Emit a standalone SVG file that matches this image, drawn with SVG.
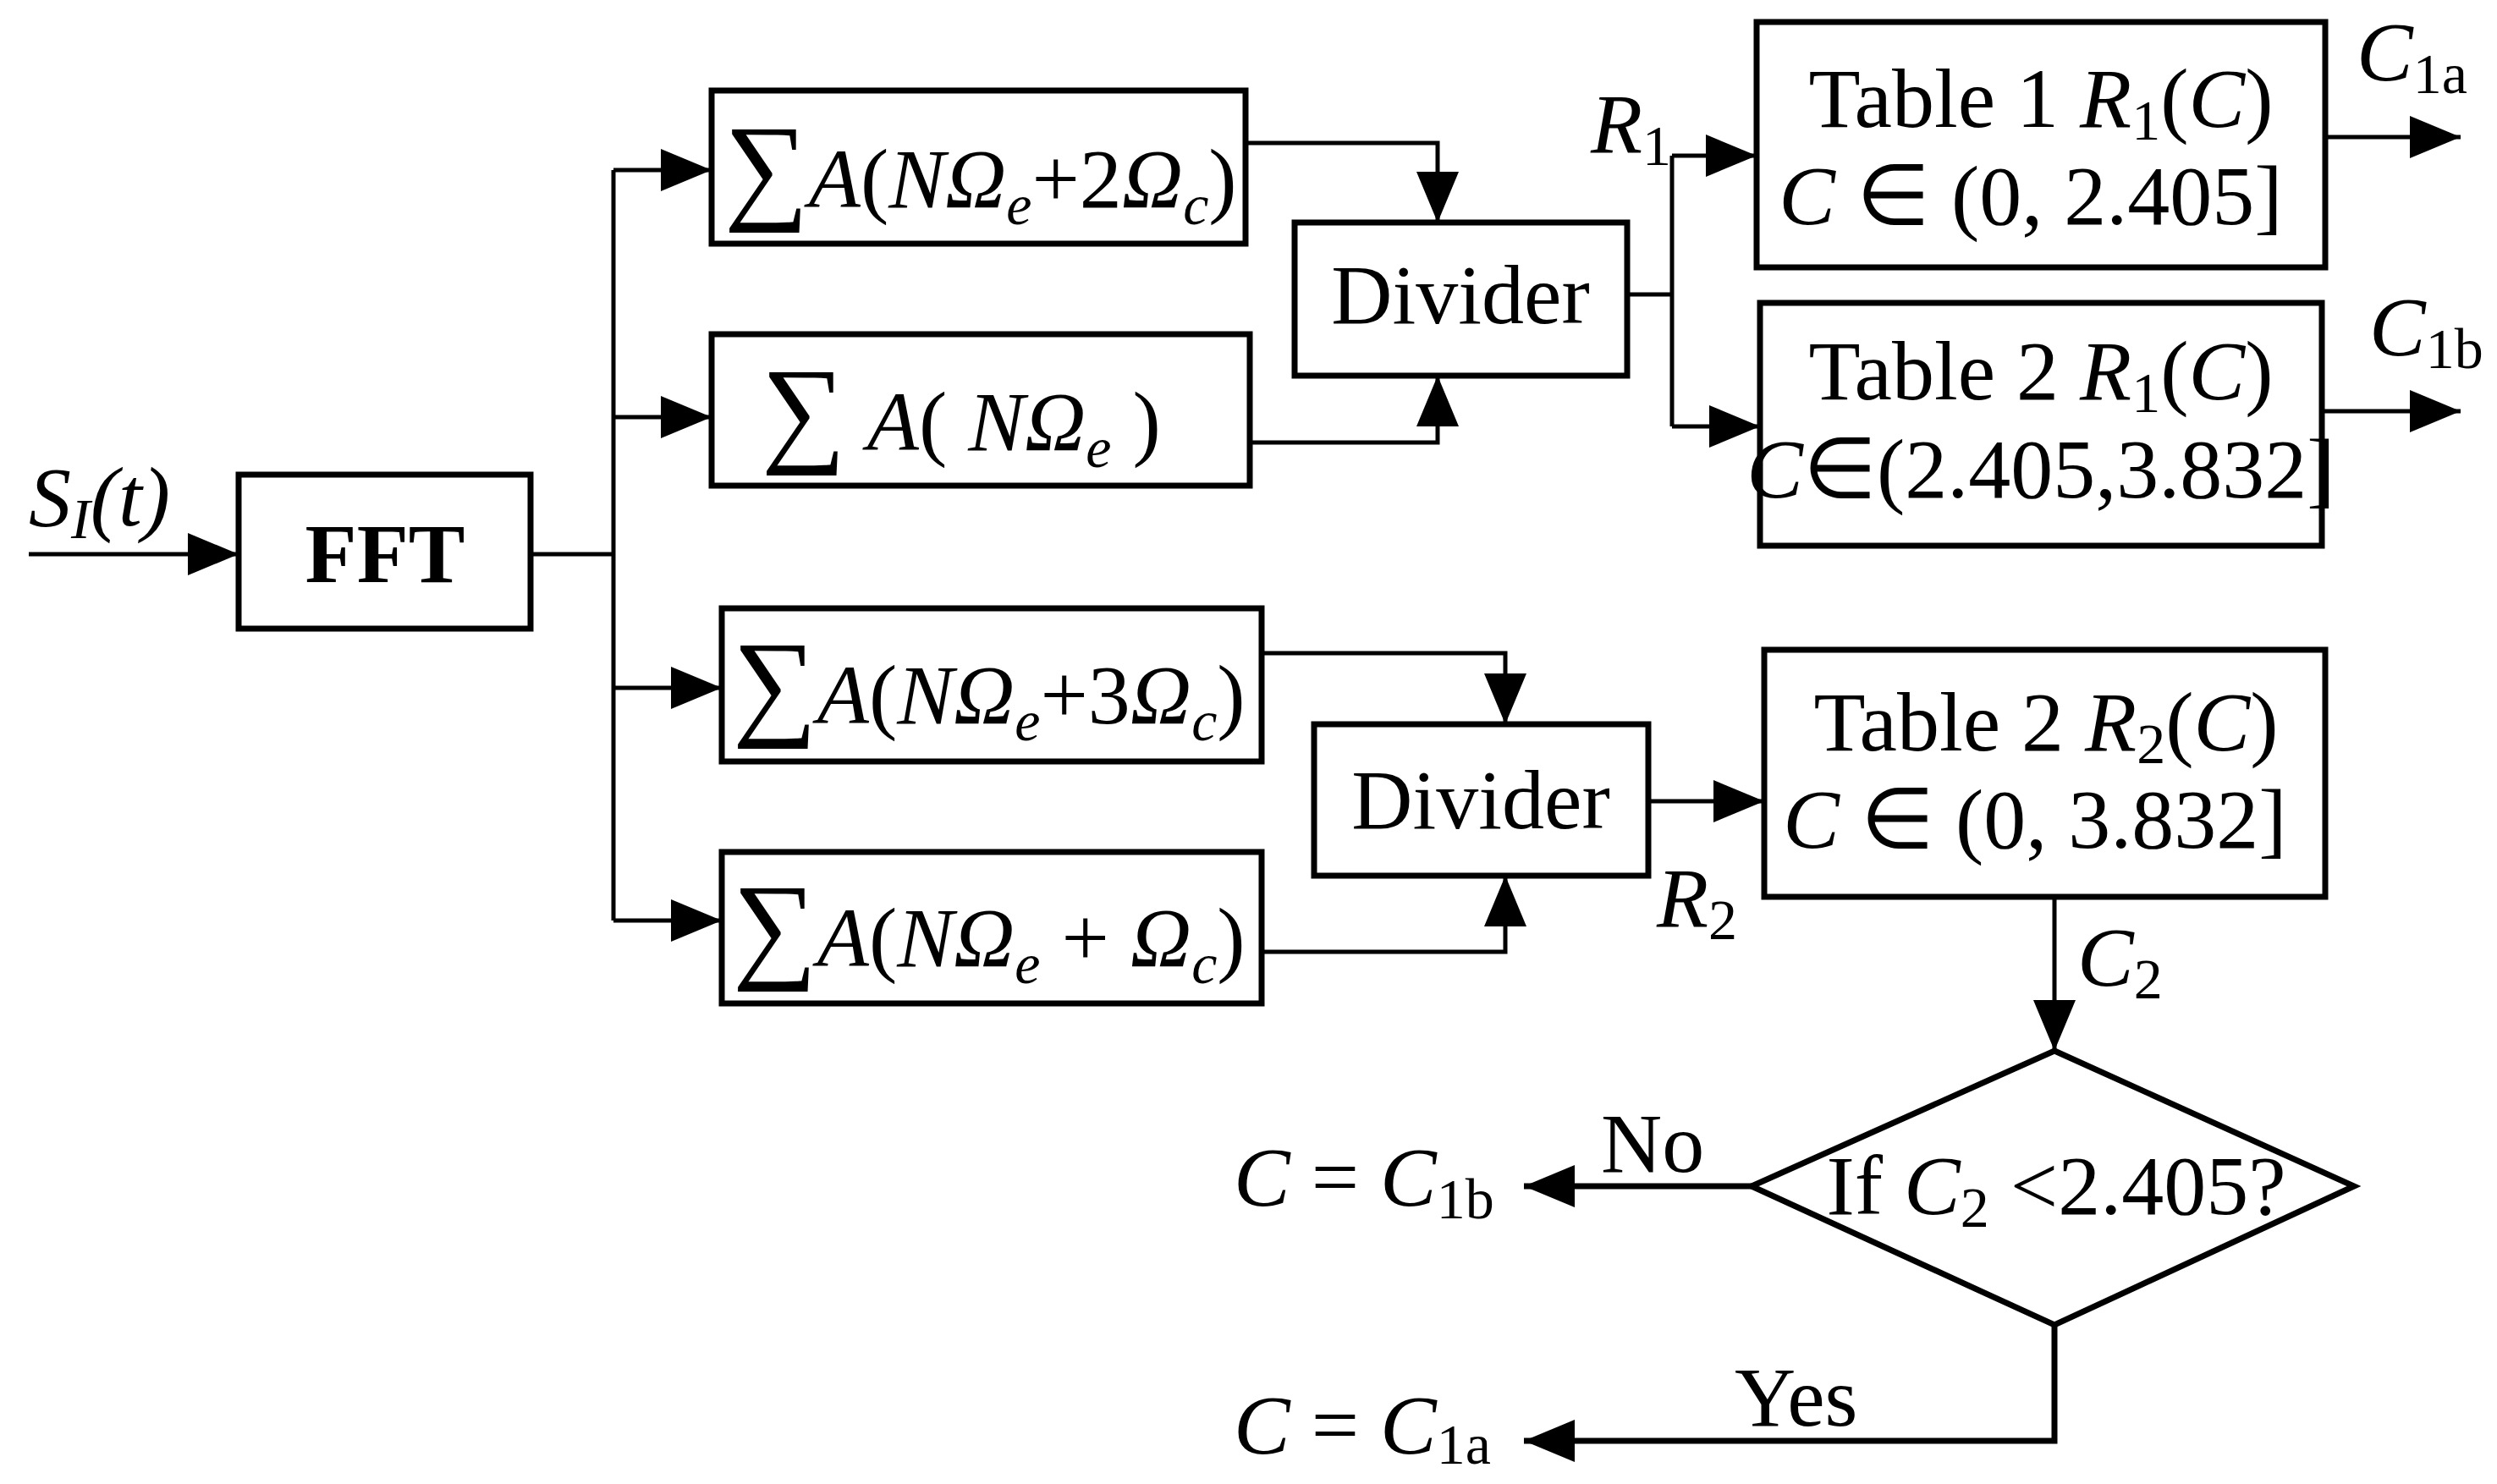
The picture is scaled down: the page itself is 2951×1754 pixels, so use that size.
<svg xmlns="http://www.w3.org/2000/svg" width="2951" height="1754" viewBox="0 0 2951 1754">
<style>
.b{fill:#fff;stroke:#000;stroke-width:7}
.l{fill:none;stroke:#000;stroke-width:5}
.t{font-family:"Liberation Serif",serif;font-size:100px;fill:#000}
.i{font-style:italic}
.s{font-size:68px}
.big{font-size:140px}
</style>
<defs>
<marker id="m" viewBox="0 0 60 50" refX="60" refY="25" markerWidth="60" markerHeight="50" orient="auto" markerUnits="userSpaceOnUse"><path d="M0,0 L60,25 L0,50 Z"/></marker>
</defs>
<rect width="2951" height="1754" fill="#fff"/>
<g id="connectors" class="l">
<path d="M34,655 H282" marker-end="url(#m)"/>
<path d="M627,655 H725"/>
<path d="M725,201 V1088"/>
<path d="M725,201 H841" marker-end="url(#m)"/>
<path d="M725,493 H841" marker-end="url(#m)"/>
<path d="M725,813 H853" marker-end="url(#m)"/>
<path d="M725,1088 H853" marker-end="url(#m)"/>
<path d="M1472,169 H1699 V263" marker-end="url(#m)"/>
<path d="M1477,523 H1699 V444" marker-end="url(#m)"/>
<path d="M1923,348 H1976"/>
<path d="M1976,184 V504"/>
<path d="M1976,184 H2076" marker-end="url(#m)"/>
<path d="M1976,504 H2080" marker-end="url(#m)"/>
<path d="M2748,162 H2908" marker-end="url(#m)"/>
<path d="M2744,486 H2908" marker-end="url(#m)"/>
<path d="M1491,772 H1779 V856" marker-end="url(#m)"/>
<path d="M1491,1125 H1779 V1035" marker-end="url(#m)"/>
<path d="M1948,947 H2085" marker-end="url(#m)"/>
<path d="M2428,1060 V1242" marker-end="url(#m)"/>
<path d="M2070,1402 H1801" stroke-width="7" marker-end="url(#m)"/>
<path d="M2428,1566 V1703 H1801" stroke-width="7" marker-end="url(#m)"/>
</g>
<g id="input-label"><text class="t i" x="34" y="621">S<tspan class="s" dy="15">I</tspan><tspan dy="-15">(t)</tspan></text></g>
<g id="fft"><rect class="b" x="282" y="561" width="345" height="182"/><text class="t" x="455" y="688" text-anchor="middle" font-weight="bold">FFT</text></g>
<g id="sum1"><rect class="b" x="841" y="107" width="631" height="181"/><text class="t" x="856" y="245"><tspan class="big">∑</tspan><tspan class="i">A</tspan>(<tspan class="i">NΩ</tspan><tspan class="s i" dy="20">e</tspan><tspan dy="-20">+2</tspan><tspan class="i">Ω</tspan><tspan class="s i" dy="20">c</tspan><tspan dy="-20">)</tspan></text></g>
<g id="sum2"><rect class="b" x="841" y="395" width="636" height="179"/><text class="t" x="900" y="532"><tspan class="big">∑</tspan> <tspan class="i">A</tspan>( <tspan class="i">NΩ</tspan><tspan class="s i" dy="20">e</tspan><tspan dy="-20"> )</tspan></text></g>
<g id="sum3"><rect class="b" x="853" y="719" width="638" height="181"/><text class="t" x="866" y="855"><tspan class="big">∑</tspan><tspan class="i">A</tspan>(<tspan class="i">NΩ</tspan><tspan class="s i" dy="20">e</tspan><tspan dy="-20">+3</tspan><tspan class="i">Ω</tspan><tspan class="s i" dy="20">c</tspan><tspan dy="-20">)</tspan></text></g>
<g id="sum4"><rect class="b" x="853" y="1007" width="638" height="179"/><text class="t" x="866" y="1142"><tspan class="big">∑</tspan><tspan class="i">A</tspan>(<tspan class="i">NΩ</tspan><tspan class="s i" dy="20">e</tspan><tspan dy="-20"> + </tspan><tspan class="i">Ω</tspan><tspan class="s i" dy="20">c</tspan><tspan dy="-20">)</tspan></text></g>
<g id="divider1"><rect class="b" x="1530" y="263" width="393" height="181"/><text class="t" x="1726" y="382" text-anchor="middle">Divider</text></g>
<g id="divider2"><rect class="b" x="1553" y="856" width="395" height="179"/><text class="t" x="1750" y="979" text-anchor="middle">Divider</text></g>
<g id="table1"><rect class="b" x="2076" y="26" width="672" height="290"/><text class="t" x="2412" y="150" text-anchor="middle">Table 1 <tspan class="i">R</tspan><tspan class="s" dy="15">1</tspan><tspan dy="-15">(</tspan><tspan class="i">C</tspan>)</text><text class="t" x="2400" y="265" text-anchor="middle"><tspan class="i">C</tspan> ∈ (0, 2.405]</text></g>
<g id="table2"><rect class="b" x="2080" y="358" width="664" height="287"/><text class="t" x="2412" y="472" text-anchor="middle">Table 2 <tspan class="i">R</tspan><tspan class="s" dy="15">1</tspan><tspan dy="-15">(</tspan><tspan class="i">C</tspan>)</text><text class="t" x="2412" y="588" text-anchor="middle" font-size="86"><tspan class="i">C</tspan>∈(2.405,3.832]</text></g>
<g id="table3"><rect class="b" x="2085" y="768" width="663" height="292"/><text class="t" x="2418" y="887" text-anchor="middle">Table 2 <tspan class="i">R</tspan><tspan class="s" dy="15">2</tspan><tspan dy="-15">(</tspan><tspan class="i">C</tspan>)</text><text class="t" x="2405" y="1002" text-anchor="middle"><tspan class="i">C</tspan> ∈ (0, 3.832]</text></g>
<g id="decision"><path class="b" d="M2428,1242 L2782,1402 L2428,1566 L2070,1402 Z"/><text class="t" x="2430" y="1435" text-anchor="middle" font-size="95">If <tspan class="i">C</tspan><tspan class="s" dy="15">2</tspan><tspan dy="-15"> &lt;2.405?</tspan></text></g>
<g id="labels">
<text class="t i" x="1880" y="180">R<tspan class="s" font-style="normal" dy="15">1</tspan></text>
<text class="t i" x="1958" y="1095">R<tspan class="s" font-style="normal" dy="15">2</tspan></text>
<text class="t i" x="2785" y="95">C<tspan class="s" font-style="normal" dy="15">1a</tspan></text>
<text class="t i" x="2800" y="420">C<tspan class="s" font-style="normal" dy="15">1b</tspan></text>
<text class="t i" x="2455" y="1165">C<tspan class="s" font-style="normal" dy="15">2</tspan></text>
<text class="t" x="1892" y="1385">No</text>
<text class="t" x="2050" y="1685">Yes</text>
<text class="t" x="1458" y="1425"><tspan class="i">C</tspan> = <tspan class="i">C</tspan><tspan class="s" dy="15">1b</tspan></text>
<text class="t" x="1458" y="1718"><tspan class="i">C</tspan> = <tspan class="i">C</tspan><tspan class="s" dy="12">1a</tspan></text>
</g>
</svg>
